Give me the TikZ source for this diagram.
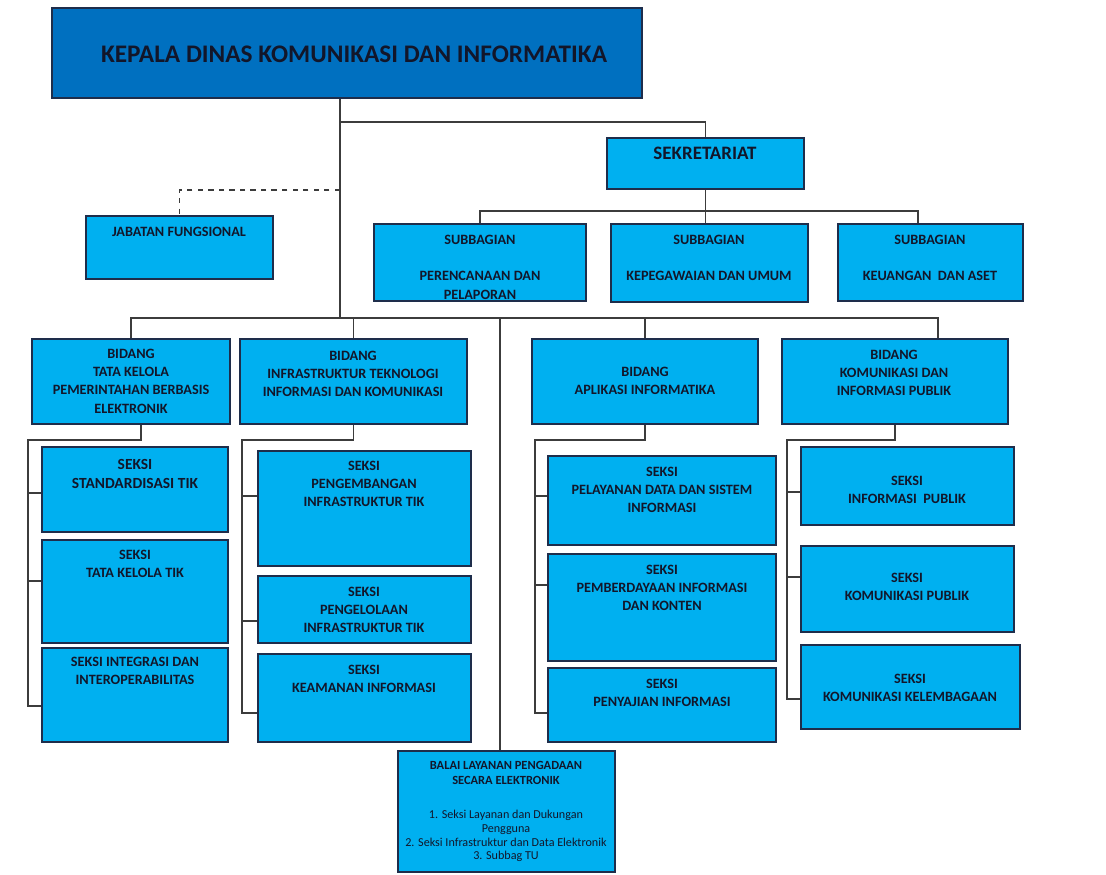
\documentclass[tikz,border=0pt]{standalone}
\usepackage{fontspec}
\setmainfont{Carlito}
\usetikzlibrary{fit}

\definecolor{birumuda}{RGB}{0,176,240}
\definecolor{birutua}{RGB}{0,112,192}
\definecolor{garis}{RGB}{60,60,60}
\definecolor{tinta}{RGB}{18,22,42}
\definecolor{tepi}{RGB}{30,45,75}

\tikzset{
  kotak/.style={draw=tepi,line width=0.9pt,fill=birumuda,inner sep=0pt},
  teks/.style={text=tinta,align=center,inner sep=0pt,font=\bfseries\fontsize{8.1}{10.4}\selectfont},
  hubung/.style={draw=garis,line width=0.85pt}
}

\begin{document}
\begin{tikzpicture}[x=0.02cm,y=-0.02cm]

        \useasboundingbox[fill=white] (0,0) rectangle (1106,875);

        \begin{scope}[every node/.style={kotak}]
          \node[fill=birutua,fit={(52,8) (642,98)}] (kepala) {};
          \node[fit={(607,138) (804,189)}] (sekr) {};
          \node[fit={(86,216) (273,279)}]  (jab) {};
          \node[fit={(374,224) (586,301)}] (sub1) {};
          \node[fit={(611,224) (808,302)}] (sub2) {};
          \node[fit={(838,224) (1023,301)}] (sub3) {};
          \node[fit={(32,339) (230,424)}]  (bid1) {};
          \node[fit={(240,339) (467,424)}] (bid2) {};
          \node[fit={(532,339) (758,424)}] (bid3) {};
          \node[fit={(782,339) (1008,424)}] (bid4) {};
          \node[fit={(42,447) (228,532)}]  (a) {};
          \node[fit={(42,540) (228,643)}]  (b) {};
          \node[fit={(42,648) (228,742)}]  (c) {};
          \node[fit={(258,451) (471,566)}] (d) {};
          \node[fit={(258,576) (471,643)}] (e) {};
          \node[fit={(258,654) (471,742)}] (f) {};
          \node[fit={(548,456) (776,545)}] (g) {};
          \node[fit={(548,554) (776,661)}] (h) {};
          \node[fit={(548,668) (776,742)}] (i) {};
          \node[fit={(801,447) (1014,525)}] (j) {};
          \node[fit={(801,546) (1014,632)}] (k) {};
          \node[fit={(801,645) (1020,729)}] (l) {};
          \node[fit={(398,751) (615,872)}] (balai) {};
        \end{scope}

        % garis
        \coordinate (trunk) at (340,318);
        \coordinate (cs) at (340,122);
        \coordinate (cj) at (340,190);
        \coordinate (ss) at (705,211);
        \coordinate (d3) at (918,211);
        \coordinate (d4) at (938,318);
        \coordinate (db) at (500,318);
        \coordinate (r1) at (28,440);
        \coordinate (r2) at (242,440);
        \coordinate (r3) at (535,440);
        \coordinate (r4) at (787,440);

        \begin{scope}[every path/.style={hubung}]
          \draw (kepala.south -| trunk) -- (trunk);
          \draw (cs) -| (sekr.north);
          \draw[dashed] (cj) -| (jab.north);
          \draw (sekr.south) -- (sekr.south |- sub2.north);
          \draw (sub1.north) |- (d3) -- (d3 |- sub3.north);

          \draw (bid1.north) |- (d4) -- (d4 |- bid4.north);
          \draw (bid2.north) -- (bid2.north |- trunk);
          \draw (bid3.north) -- (bid3.north |- trunk);
          \draw (db) -- (db |- balai.north);

          \draw (bid1.south -| 141,0) |- (r1) -- (r1 |- 0,706) -- (c.west |- 0,706);
          \draw (r1 |- 0,493) -- (a.west |- 0,493);
          \draw (r1 |- 0,581) -- (b.west |- 0,581);

          \draw (bid2.south) |- (r2) -- (r2 |- 0,713) -- (f.west |- 0,713);
          \draw (r2 |- 0,496) -- (d.west |- 0,496);
          \draw (r2 |- 0,621) -- (e.west |- 0,621);

          \draw (bid3.south) |- (r3) -- (r3 |- 0,713) -- (i.west |- 0,713);
          \draw (r3 |- 0,496) -- (g.west |- 0,496);
          \draw (r3 |- 0,585) -- (h.west |- 0,585);

          \draw (bid4.south) |- (r4) -- (r4 |- 0,699) -- (l.west |- 0,699);
          \draw (r4 |- 0,492) -- (j.west |- 0,492);
          \draw (r4 |- 0,577) -- (k.west |- 0,577);
        \end{scope}

        % teks
        \begin{scope}[every node/.style={teks}]
          \node[font=\bfseries\fontsize{14.4}{17}\selectfont] (tkepala) at (354,54) {KEPALA DINAS KOMUNIKASI DAN INFORMATIKA};
          \node[font=\bfseries\fontsize{10.8}{13}\selectfont] (tsekr) at (705,153) {SEKRETARIAT};
          \node (tjab) at (179,232) {JABATAN FUNGSIONAL};
          \node (tsub1) at (480,267) {SUBBAGIAN\\[10.4pt]PERENCANAAN DAN\\PELAPORAN};
          \node (tsub2) at (709,258) {SUBBAGIAN\\[10.4pt]KEPEGAWAIAN DAN UMUM};
          \node (tsub3) at (930,258) {SUBBAGIAN\\[10.4pt]KEUANGAN\ \ DAN ASET};

          \node (tbid1) at (131,381) {BIDANG\\TATA KELOLA\\PEMERINTAHAN BERBASIS\\ELEKTRONIK};
          \node (tbid2) at (353,374) {BIDANG\\INFRASTRUKTUR TEKNOLOGI\\INFORMASI DAN KOMUNIKASI};
          \node (tbid3) at (645,381) {BIDANG\\APLIKASI INFORMATIKA};
          \node (tbid4) at (894,373) {BIDANG\\KOMUNIKASI DAN\\INFORMASI PUBLIK};

          \node[font=\bfseries\fontsize{8.8}{11.3}\selectfont] (ta) at (135,474) {SEKSI\\STANDARDISASI TIK};
          \node (tb) at (135,564) {SEKSI\\TATA KELOLA TIK};
          \node (tc) at (135,671) {SEKSI INTEGRASI DAN\\INTEROPERABILITAS};
          \node (td) at (364,484) {SEKSI\\PENGEMBANGAN\\INFRASTRUKTUR TIK};
          \node (te) at (364,610) {SEKSI\\PENGELOLAAN\\INFRASTRUKTUR TIK};
          \node (tf) at (364,679) {SEKSI\\KEAMANAN INFORMASI};
          \node (tg) at (662,490) {SEKSI\\PELAYANAN DATA DAN SISTEM\\INFORMASI};
          \node (th) at (662,588) {SEKSI\\PEMBERDAYAAN INFORMASI\\DAN KONTEN};
          \node (ti) at (662,693) {SEKSI\\PENYAJIAN INFORMASI};
          \node (tj) at (907,490) {SEKSI\\INFORMASI\ \ PUBLIK};
          \node (tk) at (907,587) {SEKSI\\KOMUNIKASI PUBLIK};
          \node (tl) at (910,688) {SEKSI\\KOMUNIKASI KELEMBAGAAN};

          \node[font=\bfseries\fontsize{7.1}{9}\selectfont] (tbalai) at (506,773) {BALAI LAYANAN PENGADAAN\\SECARA ELEKTRONIK};
          \node[font=\fontsize{6.9}{7.9}\selectfont] (tbalai2) at (506,836) {1. Seksi Layanan dan Dukungan\\Pengguna\\2. Seksi Infrastruktur dan Data Elektronik\\3. Subbag TU};
        \end{scope}

      \end{tikzpicture}
\end{document}
